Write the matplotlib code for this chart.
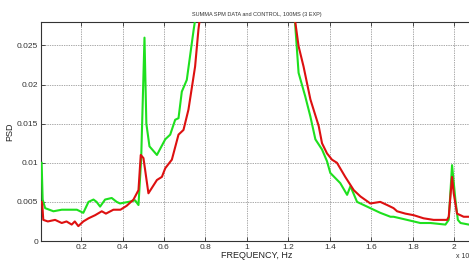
import matplotlib
matplotlib.use("Agg")
import matplotlib.pyplot as plt
import numpy as np

plt.rcParams['font.family'] = ['Liberation Sans', 'DejaVu Sans']

title = "SUMMA SPM DATA and CONTROL, 100MS (3 EXP)"
xlabel = "FREQUENCY, Hz"
ylabel = "PSD"

green_x = [0.010, 0.015, 0.027, 0.067, 0.107, 0.180, 0.211, 0.236, 0.260, 0.275, 0.292,
           0.316, 0.348, 0.372, 0.388, 0.429, 0.461, 0.477, 0.490, 0.506, 0.515, 0.530,
           0.566, 0.606, 0.630, 0.654, 0.670, 0.686, 0.710, 0.743, 0.760, 0.850, 1.000,
           1.150, 1.225, 1.233, 1.249, 1.281, 1.306, 1.330, 1.362, 1.386, 1.402, 1.450,
           1.483, 1.499, 1.531, 1.579, 1.643, 1.692, 1.707, 1.740, 1.772, 1.836, 1.885,
           1.957, 1.973, 1.989, 2.005, 2.017, 2.030, 2.070, 2.100]
green_y = [0.0100, 0.0053, 0.0042, 0.0038, 0.0040, 0.0040, 0.0036, 0.0050, 0.0053, 0.0050, 0.0044,
           0.0053, 0.0055, 0.0050, 0.0048, 0.0050, 0.0052, 0.0046, 0.0105, 0.0260, 0.0150, 0.0121,
           0.0110, 0.0130, 0.0136, 0.0155, 0.0157, 0.0191, 0.0206, 0.0270, 0.0300, 0.0500, 0.0800,
           0.0500, 0.0300, 0.0275, 0.0215, 0.0185, 0.0159, 0.0130, 0.0117, 0.0102, 0.0087, 0.0074,
           0.0059, 0.0070, 0.0050, 0.0044, 0.0036, 0.0031, 0.0031, 0.0029, 0.0027, 0.0023, 0.0023,
           0.0021, 0.0027, 0.0097, 0.0053, 0.0027, 0.0023, 0.0021, 0.0021]

red_x = [0.010, 0.013, 0.018, 0.040, 0.075, 0.107, 0.130, 0.155, 0.170, 0.187, 0.211,
         0.236, 0.268, 0.300, 0.320, 0.356, 0.390, 0.420, 0.453, 0.477, 0.488, 0.501,
         0.525, 0.566, 0.590, 0.606, 0.638, 0.670, 0.694, 0.718, 0.750, 0.766, 0.850,
         1.000, 1.150, 1.233, 1.249, 1.273, 1.306, 1.346, 1.362, 1.386, 1.410, 1.434,
         1.474, 1.515, 1.547, 1.595, 1.643, 1.676, 1.707, 1.724, 1.764, 1.804, 1.852,
         1.900, 1.965, 1.973, 1.989, 1.997, 2.013, 2.045, 2.070, 2.100]
red_y = [0.0050, 0.0047, 0.0027, 0.0025, 0.0027, 0.0023, 0.0025, 0.0021, 0.0025, 0.0019, 0.0025,
         0.0029, 0.0033, 0.0038, 0.0035, 0.0040, 0.0040, 0.0045, 0.0053, 0.0065, 0.0110, 0.0106,
         0.0061, 0.0078, 0.0082, 0.0093, 0.0104, 0.0136, 0.0142, 0.0168, 0.0223, 0.0270, 0.0450,
         0.0750, 0.0450, 0.0280, 0.0249, 0.0223, 0.0181, 0.0147, 0.0125, 0.0112, 0.0104, 0.0100,
         0.0082, 0.0065, 0.0057, 0.0048, 0.0050, 0.0046, 0.0042, 0.0038, 0.0035, 0.0033, 0.0029,
         0.0027, 0.0027, 0.0031, 0.0082, 0.0061, 0.0035, 0.0031, 0.0031, 0.0031]

xticks = [0.2, 0.4, 0.6, 0.8, 1.0, 1.2, 1.4, 1.6, 1.8, 2.0]
xticklabels = ["0.2", "0.4", "0.6", "0.8", "1", "1.2", "1.4", "1.6", "1.8", "2"]
yticks = [0, 0.005, 0.01, 0.015, 0.02, 0.025]
yticklabels = ["0", "0.005", "0.01", "0.015", "0.02", "0.025"]

fig = plt.figure(figsize=(4.69, 2.61), dpi=100)
ax = fig.add_axes([41/469, 20/261, 432/469, 219/261])

ax.plot(green_x, green_y, color='#1ee01e', lw=1.5, zorder=3)
ax.plot(red_x, red_y, color='#dd1010', lw=1.5, zorder=4)

ax.set_xlim(0.007, 2.09)
ax.set_ylim(0, 0.028)
ax.set_xticks(xticks)
ax.set_xticklabels(xticklabels)
ax.set_yticks(yticks)
ax.set_yticklabels(yticklabels)
ax.tick_params(direction='in', length=3, width=0.6, labelsize=6, pad=2,
               top=True, right=True, colors='#333333')
ax.grid(True, linestyle=(0, (1, 1.5)), color='#555555', lw=0.5)
for s in ax.spines.values():
    s.set_linewidth(0.8)
    s.set_color('#333333')

ax.set_title(title, fontsize=4, pad=4, color='#333333')
ax.set_xlabel(xlabel, fontsize=6.5, labelpad=0, color='#222222')
ax.set_ylabel(ylabel, fontsize=6.5, color='#222222')
ax.yaxis.set_label_coords(-27/432, 0.5)
fig.text(456/469, 1/261, "x 10", fontsize=5, color='#333333', va='bottom')

fig.savefig("out.png", dpi=100)
